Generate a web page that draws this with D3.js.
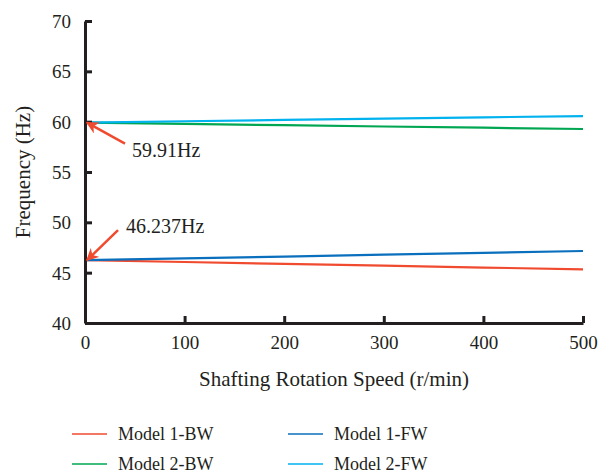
<!DOCTYPE html>
<html>
<head>
<meta charset="utf-8">
<script src="https://cdn.jsdelivr.net/npm/d3@7"></script>
<style>
  body { margin: 0; background: #fff; }
  text { font-family: "Liberation Serif", "DejaVu Serif", serif; fill: #231f20; }
</style>
</head>
<body>
<div id="chart"></div>
<script>
const speeds = [0, 100, 200, 300, 400, 500];
const model1BW = [46.237, 46.06, 45.87, 45.69, 45.51, 45.33];
const model1FW = [46.237, 46.42, 46.6, 46.79, 46.97, 47.15];
const model2BW = [59.91, 59.78, 59.65, 59.52, 59.40, 59.27];
const model2FW = [59.91, 60.04, 60.17, 60.30, 60.43, 60.56];
const xTicks = [0, 100, 200, 300, 400, 500];
const yTicks = [40, 45, 50, 55, 60, 65, 70];

const series = [
  { name: "Model 1-BW", values: model1BW, color: "#f04a2f" },
  { name: "Model 1-FW", values: model1FW, color: "#0a6fbd" },
  { name: "Model 2-BW", values: model2BW, color: "#00a651" },
  { name: "Model 2-FW", values: model2FW, color: "#00b2ee" }
];

const width = 607, height = 474;
const margin = { left: 85, right: 24, top: 21, bottom: 151 };

const svg = d3.select("#chart").append("svg")
  .attr("width", width)
  .attr("height", height);

const x = d3.scaleLinear().domain([0, 500]).range([margin.left, width - margin.right]);
const y = d3.scaleLinear().domain([40, 70]).range([height - margin.bottom, margin.top]);

// lines
const line = d3.line()
  .x((d, i) => x(speeds[i]))
  .y(d => y(d));

series.forEach(s => {
  svg.append("path")
    .datum(s.values)
    .attr("fill", "none")
    .attr("stroke", s.color)
    .attr("stroke-width", 2.2)
    .attr("d", line);
});

// axes, ticks point inward
const xAxis = svg.append("g")
  .attr("transform", `translate(0,${y(40)})`)
  .call(d3.axisBottom(x).tickValues(xTicks).tickSizeInner(-7).tickSizeOuter(0).tickPadding(13));
const yAxis = svg.append("g")
  .attr("transform", `translate(${x(0)},0)`)
  .call(d3.axisLeft(y).tickValues(yTicks).tickSizeInner(-7).tickSizeOuter(0).tickPadding(14));

[xAxis, yAxis].forEach(g => {
  g.select(".domain").attr("stroke", "#231f20").attr("stroke-width", 3);
  g.selectAll(".tick line").attr("stroke", "#231f20").attr("stroke-width", 3);
  g.selectAll(".tick text").style("font-size", "19px").attr("fill", "#231f20");
});
yAxis.selectAll(".tick text").attr("dy", "0.35em");

// axis titles
svg.append("text")
  .attr("x", (x(0) + x(500)) / 2)
  .attr("y", 386)
  .attr("text-anchor", "middle")
  .style("font-size", "21px")
  .text("Shafting Rotation Speed (r/min)");

svg.append("text")
  .attr("transform", `translate(30,${(y(40) + y(70)) / 2}) rotate(-90)`)
  .attr("text-anchor", "middle")
  .style("font-size", "21px")
  .text("Frequency (Hz)");

// annotations
const defs = svg.append("defs");
defs.append("marker")
  .attr("id", "arrow")
  .attr("viewBox", "0 0 10 10")
  .attr("refX", 9)
  .attr("refY", 5)
  .attr("markerWidth", 5)
  .attr("markerHeight", 5)
  .attr("orient", "auto")
  .append("path")
  .attr("d", "M0,0 L10,5 L0,10 L3,5 z")
  .attr("fill", "#f04a2f");

const notes = [
  { value: 59.91, label: "59.91Hz", dx: 38, dy: 21, tx: 45, ty: 34 },
  { value: 46.237, label: "46.237Hz", dx: 31, dy: -30, tx: 39, ty: -27 }
];
notes.forEach(n => {
  const hx = x(0) + 2, hy = y(n.value);
  svg.append("line")
    .attr("x1", hx + n.dx).attr("y1", hy + n.dy)
    .attr("x2", hx).attr("y2", hy)
    .attr("stroke", "#f04a2f")
    .attr("stroke-width", 2.5)
    .attr("marker-end", "url(#arrow)");
  svg.append("text")
    .attr("x", hx + n.tx)
    .attr("y", hy + n.ty)
    .style("font-size", "20px")
    .text(n.label);
});

// legend
const legend = svg.append("g");
series.forEach((s, i) => {
  const col = i % 2, row = Math.floor(i / 2);
  const lx = 72 + col * 216, ly = 434 + row * 30;
  legend.append("line")
    .attr("x1", lx).attr("x2", lx + 35)
    .attr("y1", ly).attr("y2", ly)
    .attr("stroke", s.color)
    .attr("stroke-width", 1.5);
  legend.append("text")
    .attr("x", lx + 46)
    .attr("y", ly + 6)
    .style("font-size", "18px")
    .text(s.name);
});
</script>
</body>
</html>
